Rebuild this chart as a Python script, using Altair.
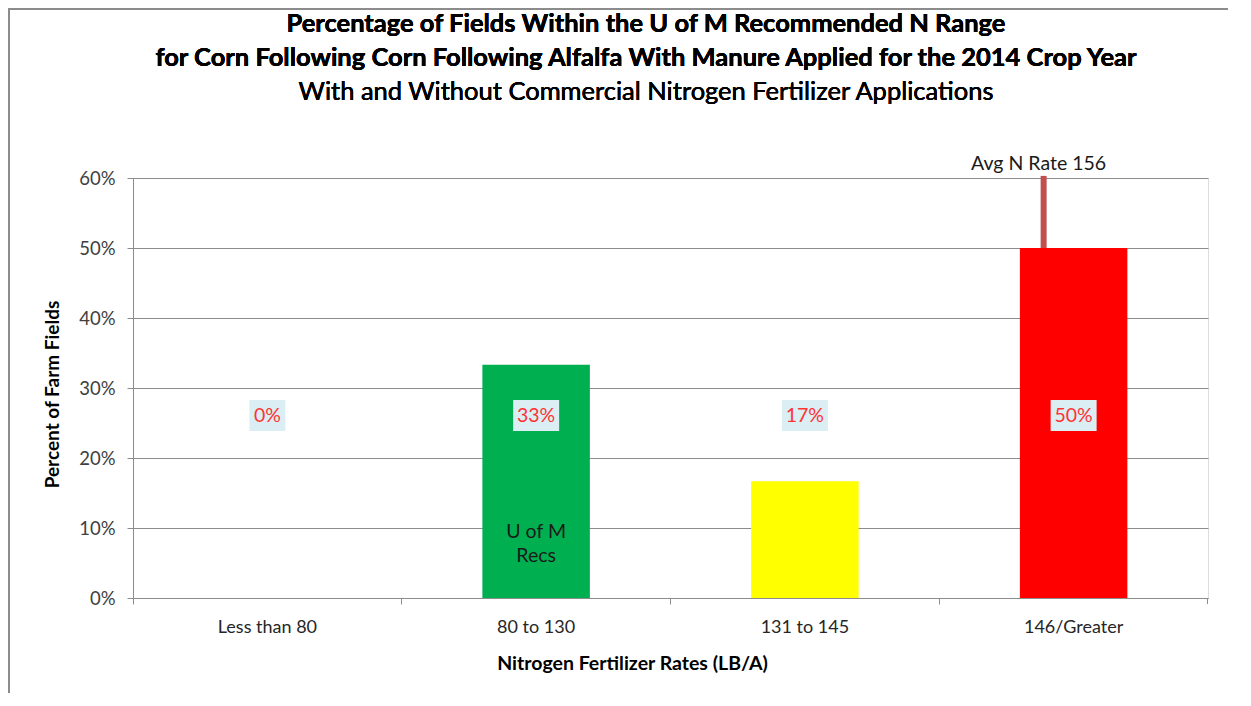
import altair as alt
import pandas as pd

categories = ["Less than 80", "80 to 130", "131 to 145", "146/Greater"]
percent = [0.0, 0.3333, 0.1667, 0.50]
labels = ["0%", "33%", "17%", "50%"]
bar_colors = ["#00B050", "#00B050", "#FFFF00", "#FF0000"]
label_low = 0.2386
label_high = 0.2829
label_mid = 0.2607
avg_category = "146/Greater"
avg_top = 0.603
avg_text = "Avg N Rate 156"
recs_category = "80 to 130"
recs_lines = ["U of M", "Recs"]
recs_levels = [0.0943, 0.060]
y_ticks = [0, 0.1, 0.2, 0.3, 0.4, 0.5, 0.6]
title_lines = ["Percentage of Fields Within the U of M Recommended N Range",
               "for Corn Following Corn Following Alfalfa With Manure Applied for the 2014 Crop Year"]
subtitle_line = "With and Without Commercial Nitrogen Fertilizer Applications"

W, H = 1075, 420
FONT = "Lato"

df = pd.DataFrame({"cat": categories, "pct": percent, "lab": labels, "col": bar_colors})
df["n"] = df["lab"].str.len()
avg_df = pd.DataFrame({"cat": [avg_category], "lo": [0.5], "hi": [avg_top], "t": [avg_text]})
recs_df = pd.DataFrame({"cat": [recs_category] * 2, "t": recs_lines, "y": recs_levels})

xs = alt.Scale(domain=categories, paddingInner=0, paddingOuter=0)
ys = alt.Scale(domain=[0, 0.6], nice=False)
GRAY = "#8c8c8c"

x_axis = alt.Axis(
    title="Nitrogen Fertilizer Rates (LB/A)", bandPosition=0,
    labelAngle=0, labelFontSize=18, labelColor="#262626", labelPadding=14, labelFont=FONT,
    tickSize=6, tickColor=GRAY, domainColor=GRAY, grid=False,
    titleFont=FONT, titleFontSize=19.5, titleFontWeight="bold", titleColor="#000000",
    titleX=499, titleY=65, titleBaseline="middle", titleAlign="center",
)
y_axis = alt.Axis(
    title="Percent of Farm Fields", values=y_ticks, format=".0%",
    labelFontSize=18.5, labelColor="#404040", labelPadding=12, labelFont=FONT,
    tickSize=6, tickColor=GRAY, domainColor=GRAY,
    gridColor=GRAY, gridWidth=1,
    titleFont=FONT, titleFontSize=19, titleFontWeight="bold", titleColor="#000000",
    titleX=-81, titleY=H / 2 + 6, titleBaseline="middle", titleAlign="center",
)

base = alt.Chart(df)
bars = base.mark_bar(width=alt.RelativeBandSize(0.4)).encode(
    x=alt.X("cat:N", scale=xs, axis=x_axis, sort=categories),
    y=alt.Y("pct:Q", scale=ys, axis=y_axis),
    color=alt.Color("col:N", scale=None),
)

box2 = base.transform_filter("datum.n <= 2").mark_bar(width=36, color="#DAEEF3").encode(
    x=alt.X("cat:N", scale=xs, sort=categories),
    y=alt.datum(label_low), y2=alt.datum(label_high),
)
box3 = base.transform_filter("datum.n > 2").mark_bar(width=46, color="#DAEEF3").encode(
    x=alt.X("cat:N", scale=xs, sort=categories),
    y=alt.datum(label_low), y2=alt.datum(label_high),
)
lab_text = base.mark_text(font=FONT, fontSize=19.5, color="#FF3333", baseline="middle").encode(
    x=alt.X("cat:N", scale=xs, sort=categories),
    y=alt.datum(label_mid),
    text="lab:N",
)

avg_rule = alt.Chart(avg_df).mark_rule(strokeWidth=6, color="#C0504D", xOffset=-30).encode(
    x=alt.X("cat:N", scale=xs, sort=categories),
    y=alt.Y("lo:Q", scale=ys), y2="hi:Q",
)
avg_lab = alt.Chart(avg_df).mark_text(font=FONT, fontSize=19.5, color="#1a1a1a",
                                      baseline="bottom", dx=-35, dy=-2).encode(
    x=alt.X("cat:N", scale=xs, sort=categories),
    y=alt.Y("hi:Q", scale=ys),
    text="t:N",
)
recs = alt.Chart(recs_df).mark_text(font=FONT, fontSize=19.5, color="#1a1a1a", baseline="middle").encode(
    x=alt.X("cat:N", scale=xs, sort=categories),
    y=alt.Y("y:Q", scale=ys),
    text="t:N",
)

end_tick = alt.Chart(df).mark_rule(color=GRAY, strokeWidth=1).encode(
    x=alt.value(W - 0.5), y=alt.value(H), y2=alt.value(H + 6))

frame_v = alt.Chart(df).mark_rule(color=GRAY, strokeWidth=2).encode(
    x=alt.value(-124), y=alt.value(-170), y2=alt.value(H + 200))
frame_h = alt.Chart(df).mark_rule(color=GRAY, strokeWidth=2).encode(
    x=alt.value(-125), x2=alt.value(W + 100), y=alt.value(-169))

t1 = alt.Chart(df).mark_text(font=FONT, fontSize=25.5, fontWeight="bold", color="#000000",
                             baseline="middle", align="center").encode(
    x=alt.value(513), y=alt.value(-154), text=alt.value(title_lines[0]))
t2 = alt.Chart(df).mark_text(font=FONT, fontSize=25.5, fontWeight="bold", color="#000000",
                             baseline="middle", align="center").encode(
    x=alt.value(513), y=alt.value(-120), text=alt.value(title_lines[1]))
t3 = alt.Chart(df).mark_text(font=FONT, fontSize=25.5, color="#000000",
                             baseline="middle", align="center").encode(
    x=alt.value(513), y=alt.value(-86), text=alt.value(subtitle_line))

chart = alt.layer(bars, box2, box3, lab_text, avg_rule, avg_lab, recs, end_tick,
                  frame_v, frame_h, t1, t2, t3).properties(
    width=W, height=H,
    autosize=alt.AutoSizeParams(type="none"),
    padding={"left": 125, "top": 170, "right": 20, "bottom": 95},
).configure_view(stroke=None).configure(background="white")

chart.save("out.html", embed_options={"renderer": "svg", "actions": False})
